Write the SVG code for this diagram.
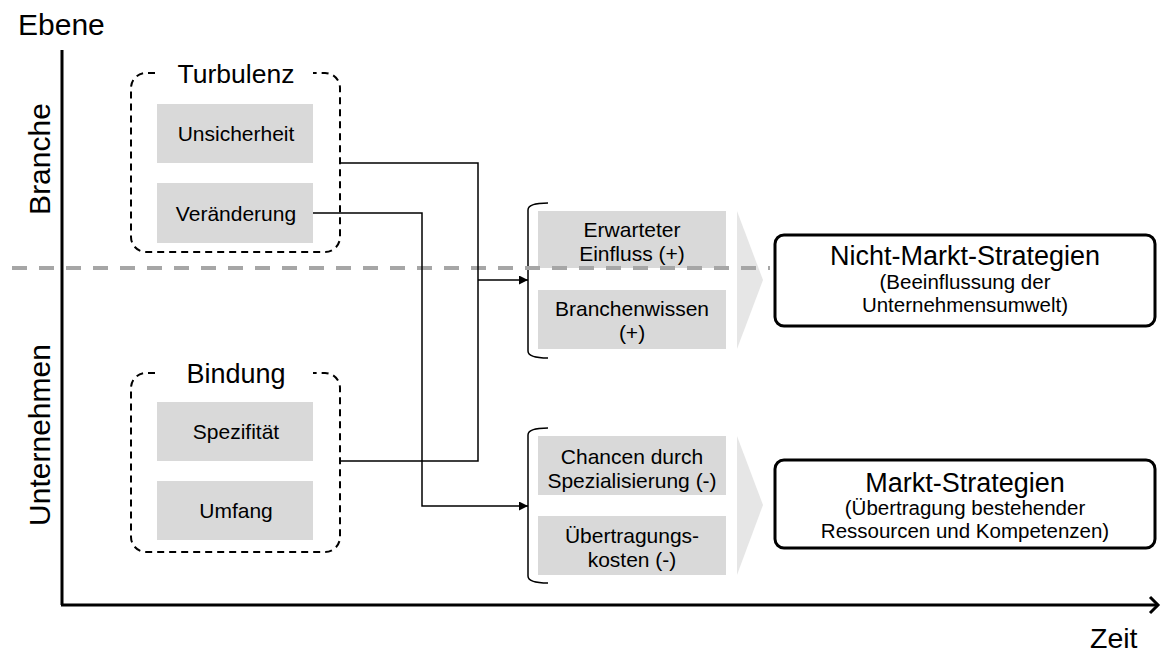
<svg xmlns="http://www.w3.org/2000/svg" width="1161" height="653" viewBox="0 0 1161 653">
<defs>
<style>
text{font-family:"Liberation Sans",Arial,Helvetica,sans-serif;fill:#000}
.t20{font-size:21px;text-anchor:middle}
.t19{font-size:20.5px;text-anchor:middle}
.ttl{font-size:27px;text-anchor:middle}
.grp{fill:none;stroke:#000;stroke-width:2;stroke-dasharray:7 5}
.gbox{fill:#d9d9d9}
.tri{fill:#e6e6e6}
.conn{fill:none;stroke:#000;stroke-width:1.5}
.brk{fill:none;stroke:#000;stroke-width:1.5}
.strat{fill:#fff;stroke:#000;stroke-width:3}
.axis{fill:none;stroke:#000;stroke-width:3}
</style>
<marker id="ah" viewBox="0 0 10 10" refX="10" refY="5" markerWidth="9" markerHeight="9" markerUnits="userSpaceOnUse" orient="auto">
<path d="M0,0 L10,5 L0,10 z" fill="#000"/>
</marker>
</defs>
<rect width="1161" height="653" fill="#fff"/>

<g id="axes">
<line class="axis" x1="62" y1="50" x2="62" y2="605"/>
<line class="axis" x1="61" y1="605" x2="1158" y2="605"/>
<polyline class="axis" points="1150,597 1158,605 1150,613"/>
<text x="18" y="35" font-size="30">Ebene</text>
<text x="1090" y="648" font-size="28.5">Zeit</text>
<text transform="translate(50,159) rotate(-90)" text-anchor="middle" font-size="30">Branche</text>
<text transform="translate(50,435) rotate(-90)" text-anchor="middle" font-size="30">Unternehmen</text>
</g>

<g id="triangles">
<polygon class="tri" points="737,211 763,280 737,349"/>
<polygon class="tri" points="737,436 763,505 737,575"/>
</g>

<g id="turbulenz">
<path class="grp" d="M155,73 H146 A15,15 0 0 0 131,88 V237 A15,15 0 0 0 146,252 H325 A15,15 0 0 0 340,237 V88 A15,15 0 0 0 325,73 H313"/>
<text x="236" y="83" text-anchor="middle" font-size="26.5">Turbulenz</text>
<g id="unsicherheit"><rect class="gbox" x="157" y="104" width="156" height="59"/><text class="t20" x="236" y="141">Unsicherheit</text></g>
<g id="veraenderung"><rect class="gbox" x="157" y="183" width="156" height="60"/><text class="t20" x="236" y="221">Veränderung</text></g>
</g>

<g id="bindung">
<path class="grp" d="M155,373 H146 A15,15 0 0 0 131,388 V537 A15,15 0 0 0 146,552 H325 A15,15 0 0 0 340,537 V388 A15,15 0 0 0 325,373 H313"/>
<text x="236" y="383" text-anchor="middle" font-size="27">Bindung</text>
<g id="spezifitaet"><rect class="gbox" x="157" y="402" width="156" height="59"/><text class="t20" x="236" y="439">Spezifität</text></g>
<g id="umfang"><rect class="gbox" x="157" y="481" width="156" height="59"/><text class="t20" x="236" y="518">Umfang</text></g>
</g>

<g id="faktoren-oben">
<path class="brk" d="M548,203 Q528,203 528,210 V351 Q528,358 548,358"/>
<g id="erwarteter-einfluss"><rect class="gbox" x="538" y="211" width="188" height="57"/><text class="t20" x="632" y="237">Erwarteter</text><text class="t20" x="632" y="261">Einfluss (+)</text></g>
<g id="branchenwissen"><rect class="gbox" x="538" y="290" width="188" height="59"/><text class="t20" x="632" y="316">Branchenwissen</text><text class="t20" x="632" y="340">(+)</text></g>
</g>

<g id="faktoren-unten">
<path class="brk" d="M548,428 Q528,428 528,435 V576 Q528,583 548,583"/>
<g id="chancen"><rect class="gbox" x="538" y="436" width="188" height="59"/><text class="t20" x="632" y="464">Chancen durch</text><text class="t20" x="632" y="488">Spezialisierung (-)</text></g>
<g id="uebertragungskosten"><rect class="gbox" x="538" y="516" width="188" height="59"/><text class="t20" x="632" y="543">Übertragungs-</text><text class="t20" x="632" y="567">kosten (-)</text></g>
</g>

<line id="ebenen-trenner" x1="12" y1="268" x2="770" y2="268" stroke="#a6a6a6" stroke-width="4" stroke-dasharray="15 12"/>

<g id="nicht-markt">
<rect class="strat" x="775" y="235" width="380" height="91" rx="9"/>
<text class="ttl" x="965" y="265">Nicht-Markt-Strategien</text>
<text class="t19" x="965" y="289">(Beeinflussung der</text>
<text class="t19" x="965" y="312">Unternehmensumwelt)</text>
</g>

<g id="markt">
<rect class="strat" x="775" y="460" width="380" height="88" rx="9"/>
<text class="ttl" x="965" y="492">Markt-Strategien</text>
<text class="t19" x="965" y="515">(Übertragung bestehender</text>
<text class="t19" x="965" y="538">Ressourcen und Kompetenzen)</text>
</g>

<g id="connectors">
<polyline class="conn" points="340,163 478,163 478,461 340,461"/>
<line class="conn" x1="478" y1="280" x2="528" y2="280" marker-end="url(#ah)"/>
<polyline class="conn" points="313,213 422,213 422,506 528,506" marker-end="url(#ah)"/>
</g>
</svg>
